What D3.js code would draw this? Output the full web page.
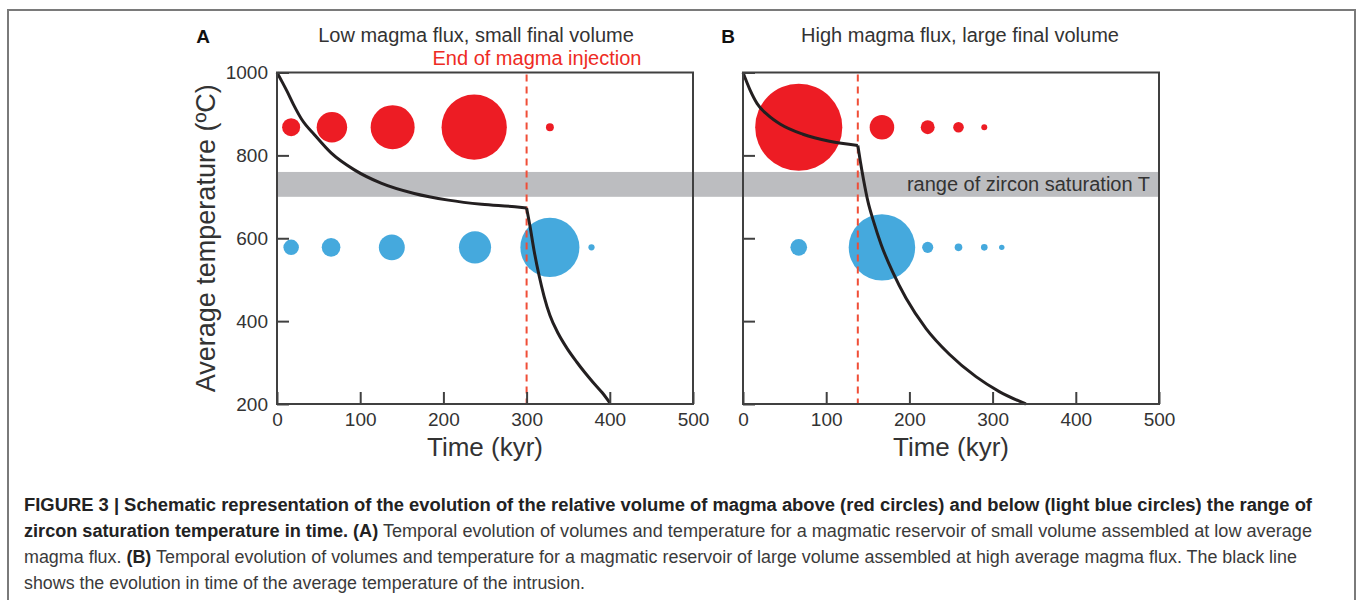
<!DOCTYPE html>
<html lang="en">
<head>
    <meta charset="UTF-8">
    <title>Figure 3</title>
    <script src="https://cdn.jsdelivr.net/npm/d3@7"></script>
    <style>
        body{margin:0;background:#fff;}
        svg{display:block;}
    </style>
</head>
<body>
<script>
    // tick values
    var xTicks = [0,100,200,300,400,500];
    var yTicks = [200,400,600,800,1000];
    // zircon saturation range (degC)
    var zirconBand = [700,760];
    // temperature level of the two rows of circles
    var hotLevel = 868;
    var coldLevel = 578;

    // panel A: low flux
    var aInjectionEnd = 300;
    var aHotTime = [17,66,139,237,328];
    var aHotVol = [4.2,12,25,55,0.8];
    var aColdTime = [17,65,138,238,328,378];
    var aColdVol = [3.1,4.5,8.7,13.4,45,0.5];
    var aTimeBefore = [0,6,12,20,30,45,65,93,125,165,206,246,286,300];
    var aTempBefore = [1000,978,955,922,886,850,806,765,733,708,692,682,676,673];
    var aTimeAfter = [300,304,309,315,321,328,338,349,360,370,380,391,400];
    var aTempAfter = [673,630,570,510,460,414,370,333,302,276,252,227,203];

    // panel B: high flux
    var bInjectionEnd = 138;
    var bHotTime = [67,167,222,259,290];
    var bHotVol = [98,7.8,2.5,1.45,0.46];
    var bColdTime = [67,167,222,259,290,311];
    var bColdVol = [3.6,57,1.6,0.75,0.56,0.38];
    var bTimeBefore = [0,8,17,30,45,72,104,138];
    var bTempBefore = [1000,960,925,897,875,851,834,824];
    var bTimeAfter = [138,141,145,150,157,166,180,196,220,248,280,308,340];
    var bTempAfter = [824,786,740,690,640,585,518,455,382,320,266,230,200];

    var width = 1358, height = 600;
    var svg = d3.select('body').append('svg').attr('width',width).attr('height',height)
        .style('font-family','"Liberation Sans", Arial, Helvetica, sans-serif');

    var red = '#ed1c24', blue = '#45a9dd', ink = '#333';
    var yScale = d3.scaleLinear().domain([200,1000]).range([404,72.5]);
    var rScale = d3.scaleSqrt().domain([0,100]).range([0,44]);

    // outer frame (open at the bottom)
    svg.append('path').attr('d','M8,600V10H1355V600')
        .attr('fill','none').attr('stroke','#7a7a7a').attr('stroke-width',2);

    var panels = [
        {key:'A', title:'Low magma flux, small final volume', x0:277, keyX:203, titleX:476, injection:aInjectionEnd,
         hotT:aHotTime, hotV:aHotVol, coldT:aColdTime, coldV:aColdVol,
         t1:aTimeBefore, T1:aTempBefore, t2:aTimeAfter, T2:aTempAfter, yLabels:true},
        {key:'B', title:'High magma flux, large final volume', x0:743, keyX:728, titleX:960, injection:bInjectionEnd,
         hotT:bHotTime, hotV:bHotVol, coldT:bColdTime, coldV:bColdVol,
         t1:bTimeBefore, T1:bTempBefore, t2:bTimeAfter, T2:bTempAfter, yLabels:false}
    ];
    var panelW = 416;

    // gray band across both panels
    svg.append('rect')
        .attr('x',panels[0].x0).attr('width',panels[1].x0 + panelW - panels[0].x0)
        .attr('y',yScale(zirconBand[1])).attr('height',yScale(zirconBand[0]) - yScale(zirconBand[1]))
        .attr('fill','#bcbdc0');
    svg.append('text').attr('x',panels[1].x0 + panelW - 9).attr('y',yScale((zirconBand[0]+zirconBand[1])/2) + 7)
        .attr('text-anchor','end').attr('font-size','20px').attr('fill',ink)
        .text('range of zircon saturation T');

    panels.forEach(function(p){
        var xScale = d3.scaleLinear().domain([0,500]).range([p.x0, p.x0 + panelW]);
        var g = svg.append('g');

        // circles
        g.selectAll('circle.hot').data(p.hotT).enter().append('circle')
            .attr('cx',function(d){return xScale(d);})
            .attr('cy',yScale(hotLevel))
            .attr('r',function(d,i){return rScale(p.hotV[i]);})
            .attr('fill',red);
        g.selectAll('circle.cold').data(p.coldT).enter().append('circle')
            .attr('cx',function(d){return xScale(d);})
            .attr('cy',yScale(coldLevel))
            .attr('r',function(d,i){return rScale(p.coldV[i]);})
            .attr('fill',blue);

        // end of injection
        g.append('line')
            .attr('x1',xScale(p.injection)).attr('x2',xScale(p.injection))
            .attr('y1',yScale(1000) + 2).attr('y2',yScale(200))
            .attr('stroke','#f04e37').attr('stroke-width',2).attr('stroke-dasharray','7,5');

        // average temperature
        var line = d3.line()
            .x(function(d){return xScale(d[0]);})
            .y(function(d){return yScale(d[1]);})
            .curve(d3.curveMonotoneX);
        [[p.t1,p.T1],[p.t2,p.T2]].forEach(function(s){
            g.append('path').datum(d3.zip(s[0],s[1]))
                .attr('d',line).attr('fill','none')
                .attr('stroke','#231f20').attr('stroke-width',3);
        });

        // axes
        var xAxis = d3.axisBottom(xScale).tickValues(xTicks).tickSizeInner(-12).tickSizeOuter(0).tickPadding(9);
        var gx = g.append('g').attr('transform','translate(0,' + yScale(200) + ')').call(xAxis);
        var yAxis = d3.axisLeft(yScale).tickValues(yTicks).tickSizeInner(-12).tickSizeOuter(0).tickPadding(9)
            .tickFormat(p.yLabels ? d3.format('d') : '');
        var gy = g.append('g').attr('transform','translate(' + p.x0 + ',0)').call(yAxis);
        [gx,gy].forEach(function(a){
            a.select('.domain').remove();
            a.selectAll('line').attr('stroke','#404040').attr('stroke-width',2);
            a.selectAll('text').attr('font-size','19px').attr('fill',ink)
                .style('font-family','"Liberation Sans", Arial, sans-serif');
        });

        // frame
        g.append('rect').attr('x',p.x0).attr('y',yScale(1000))
            .attr('width',panelW).attr('height',yScale(200) - yScale(1000))
            .attr('fill','none').attr('stroke','#404040').attr('stroke-width',2);

        // labels
        g.append('text').attr('x',xScale(250)).attr('y',456).attr('text-anchor','middle')
            .attr('font-size','26px').attr('fill',ink).text('Time (kyr)');
        g.append('text').attr('x',p.titleX).attr('y',42).attr('text-anchor','middle')
            .attr('font-size','20px').attr('fill',ink).text(p.title);
        g.append('text').attr('x',p.keyX).attr('y',43).attr('text-anchor','middle')
            .attr('font-size','19px').attr('font-weight','bold').attr('fill','#111').text(p.key);
    });

    // left y label and injection note
    svg.append('text').attr('transform','translate(215,' + yScale(600) + ') rotate(-90)')
        .attr('text-anchor','middle').attr('font-size','27px').attr('fill',ink)
        .text('Average temperature (ºC)');
    svg.append('text').attr('x',537).attr('y',65).attr('text-anchor','middle')
        .attr('font-size','20px').attr('fill','#ee2b24').text('End of magma injection');

    // caption
    var caption = [
        {y:511, len:1288, parts:[['b','FIGURE 3 | Schematic representation of the evolution of the relative volume of magma above (red circles) and below (light blue circles) the range of']]},
        {y:537, len:1288, parts:[['b','zircon saturation temperature in time. (A)'],['n',' Temporal evolution of volumes and temperature for a magmatic reservoir of small volume assembled at low average']]},
        {y:563, len:1273, parts:[['n','magma flux. '],['b','(B)'],['n',' Temporal evolution of volumes and temperature for a magmatic reservoir of large volume assembled at high average magma flux. The black line']]},
        {y:589, len:561, parts:[['n','shows the evolution in time of the average temperature of the intrusion.']]}
    ];
    caption.forEach(function(c){
        var t = svg.append('text').attr('x',24).attr('y',c.y).attr('font-size','17.5px')
            .attr('textLength',c.len).attr('lengthAdjust','spacingAndGlyphs')
            .style('font-family','"Liberation Sans Narrow", "Liberation Sans", Arial, sans-serif')
            .attr('xml:space','preserve');
        c.parts.forEach(function(s){
            t.append('tspan').attr('font-weight',s[0] === 'b' ? 'bold' : 'normal')
                .attr('fill',s[0] === 'b' ? '#222' : '#3a3a3a').text(s[1]);
        });
    });
</script>
</body>
</html>
